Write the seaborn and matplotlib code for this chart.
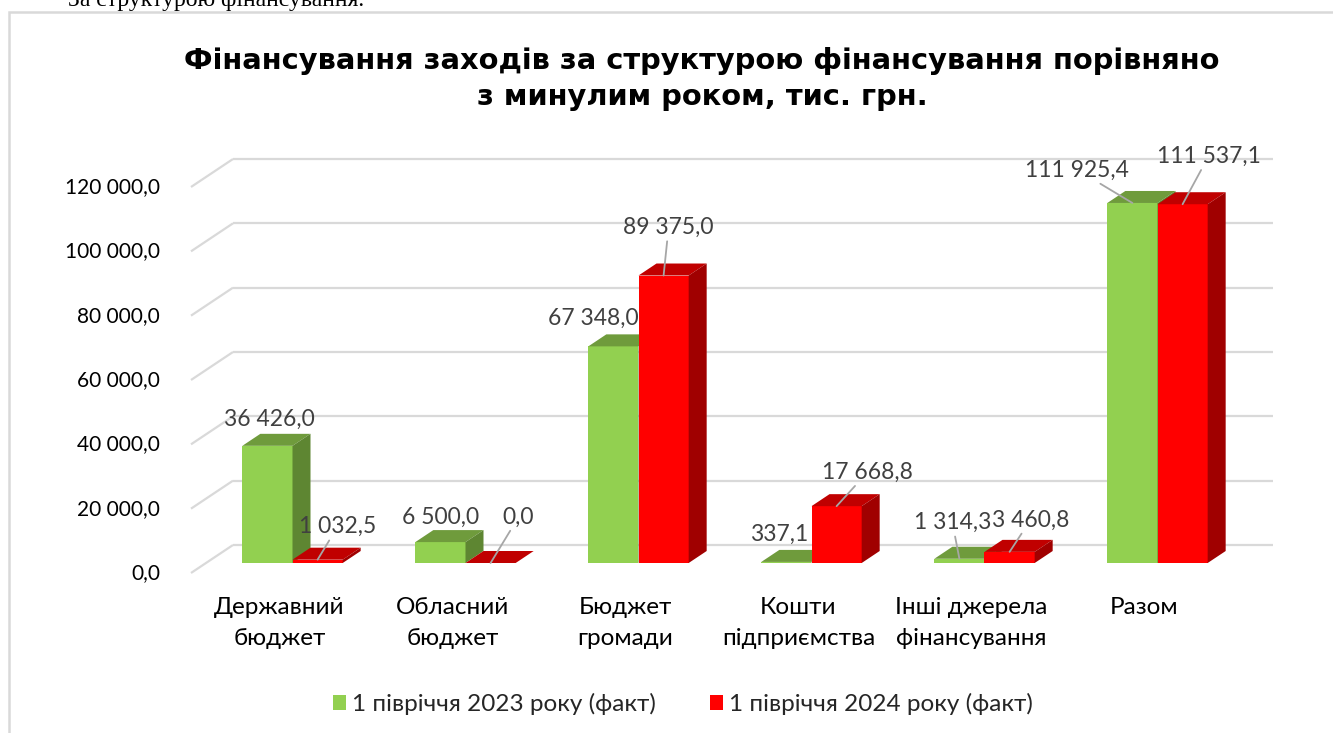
import numpy as np
import pandas as pd
import matplotlib
matplotlib.use("Agg")
import matplotlib.pyplot as plt
import seaborn as sns
from matplotlib.patches import Polygon, Rectangle

# ---------------------------------------------------------------------------
# Data
# ---------------------------------------------------------------------------
categories = ["Державний\nбюджет", "Обласний\nбюджет", "Бюджет\nгромади",
              "Кошти\nпідприємства", "Інші джерела\nфінансування", "Разом"]
series = ["1 півріччя 2023 року (факт)", "1 півріччя 2024 року (факт)"]
values_2023 = [36426.0, 6500.0, 67348.0, 337.1, 1314.3, 111925.4]
values_2024 = [1032.5, 0.0, 89375.0, 17668.8, 3460.8, 111537.1]
y_ticks = [0, 20000, 40000, 60000, 80000, 100000, 120000]

title = ("Фінансування заходів за структурою фінансування порівняно\n"
         "з минулим роком, тис. грн.")
page_text = "За структурою фінансування."

# where Excel put each data label (pixels from the bar top), and leader lines
label_offsets = [
    [(2, 26), (0, 25), (-20, 28), (-7, 28), (-7, 36), (-55, 33)],
    [(20, 33), (28, 46), (5, 48), (31, 34), (21, 32), (26, 48)],
]
label_leaders = [
    [False, False, False, False, True, True],
    [True, True, True, True, True, True],
]

# front / top / side colours of the 3-D columns
face_colors = ["#92D050", "#FF0000"]
top_colors = ["#6F9B3C", "#C00000"]
side_colors = ["#5E8632", "#A00000"]

df = pd.DataFrame({
    "category": categories * 2,
    "series": [series[0]] * len(categories) + [series[1]] * len(categories),
    "value": values_2023 + values_2024,
})

def fmt(v):
    return f"{v:,.1f}".replace(",", " ").replace(".", ",")

# ---------------------------------------------------------------------------
# Figure
# ---------------------------------------------------------------------------
sns.set_style("white")
plt.rcParams["font.family"] = ["Lato", "Noto Sans", "DejaVu Sans"]

W_PX, H_PX = 1333, 733
fig = plt.figure(figsize=(W_PX / 100, H_PX / 100), dpi=100)

# axes = the plane of the column fronts
ax_l, ax_r, ax_base, ax_top = 206, 1244, 563, 177
ax = fig.add_axes([ax_l / W_PX, 1 - ax_base / H_PX,
                   (ax_r - ax_l) / W_PX, (ax_base - ax_top) / H_PX])

sns.barplot(data=df, x="category", y="value", hue="series",
            palette=face_colors, saturation=1, width=0.58,
            linewidth=0, ax=ax)
ax.set_xlim(-0.5, len(categories) - 0.5)
ax.set_ylim(0, 120000)

ux = len(categories) / (ax_r - ax_l)     # data units per pixel (x)
uy = 120000 / (ax_base - ax_top)         # data units per pixel (y)

# ---------------------------------------------------------------------------
# Walls / gridlines (oblique projection, depth d -> dx = 1.5 d, dy = d)
# ---------------------------------------------------------------------------
grid_kw = dict(color="#D9D9D9", lw=1.6, clip_on=False, zorder=0.5,
               solid_capstyle="butt")
x_left = -0.5
x_right = len(categories) - 0.5
for v in y_ticks:
    ax.plot([x_left + 27 * ux, x_right + 29 * ux],
            [v + 18 * uy, v + 18 * uy], **grid_kw)
    ax.plot([x_left - 15 * ux, x_left + 27 * ux],
            [v - 10 * uy, v + 18 * uy], **grid_kw)
    ax.text(x_left - 46 * ux, v - 10 * uy, fmt(v), ha="right", va="center",
            fontsize=15, color="#000000")

# ---------------------------------------------------------------------------
# 3-D faces for every column + data labels
# ---------------------------------------------------------------------------
dx, dy = 18 * ux, 12 * uy
for s, cont in enumerate(ax.containers):
    for i, bar in enumerate(cont):
        bar.set_zorder(2 + s)
        x0, w, h = bar.get_x(), bar.get_width(), bar.get_height()
        top = Polygon([(x0, h), (x0 + w, h), (x0 + w + dx, h + dy), (x0 + dx, h + dy)],
                      closed=True, facecolor=top_colors[s], edgecolor="none",
                      zorder=2 + s, clip_on=False)
        side = Polygon([(x0 + w, 0), (x0 + w, h), (x0 + w + dx, h + dy), (x0 + w + dx, dy)],
                       closed=True, facecolor=side_colors[s], edgecolor="none",
                       zorder=2 + s, clip_on=False)
        ax.add_patch(top)
        ax.add_patch(side)

        ox, oy = label_offsets[s][i]
        arrow = dict(arrowstyle="-", color="#A6A6A6", lw=1.3,
                     shrinkA=0, shrinkB=0) if label_leaders[s][i] else None
        ax.annotate(fmt(h), xy=(x0 + w / 2, h), xytext=(ox, oy),
                    textcoords="offset pixels", ha="center", va="center",
                    fontsize=16.5, color="#404040", arrowprops=arrow,
                    zorder=6, annotation_clip=False)

# category labels under the floor
for i, cat in enumerate(categories):
    ax.text(i - 13 * ux, -34 * uy, cat, ha="center", va="top",
            fontsize=17.5, color="#000000", linespacing=1.6)

ax.set_axis_off()

# legend
sns.move_legend(ax, "center", bbox_to_anchor=(683 / W_PX, 1 - 704 / H_PX),
                bbox_transform=fig.transFigure, ncol=2, frameon=False,
                title=None, fontsize=17.5, handlelength=0.55, handleheight=0.55,
                handletextpad=0.25, columnspacing=2.2)

# title
fig.text(702 / W_PX, 1 - 79 / H_PX, title, ha="center", va="center",
         fontsize=20.8, fontweight="bold", family="DejaVu Sans",
         color="#000000", linespacing=1.4)

# chart frame and the cut-off line of page text above it
fig.patches.append(Rectangle((8.5 / W_PX, -0.1), 1.2, 1.1 - 11.5 / H_PX,
                             transform=fig.transFigure, fill=False,
                             edgecolor="#D9D9D9", lw=1.8))
fig.text(68 / W_PX, 1 - 6 / H_PX, page_text, ha="left", va="baseline",
         fontsize=17, family="Liberation Serif", color="#000000")

fig.savefig("out.png", dpi=100, facecolor="white")
